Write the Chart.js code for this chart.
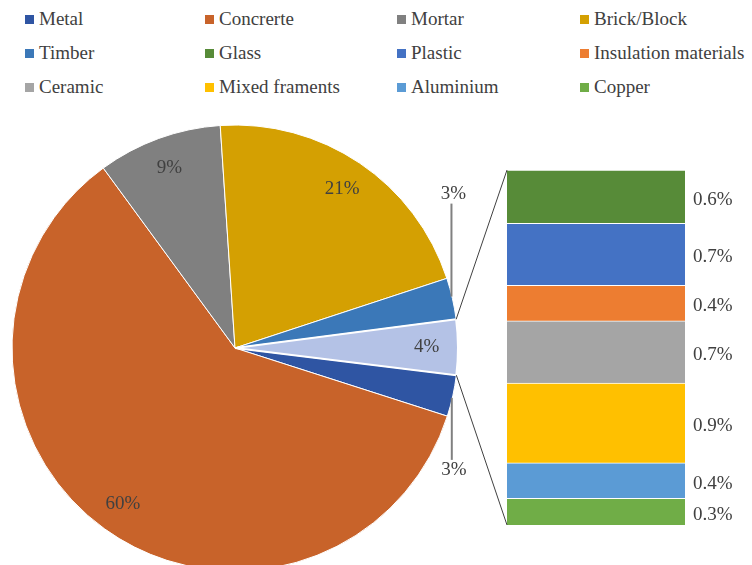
<!DOCTYPE html>
<html lang="en">
<head>
  <meta charset="UTF-8" />
  <title>Waste composition</title>
  <script src="https://cdn.jsdelivr.net/npm/chart.js"></script>
  <style>
    html, body { margin: 0; padding: 0; background: #fff; }
    body { width: 752px; height: 565px; overflow: hidden; position: relative; font-family: "Liberation Serif", serif; }
    #legend { position: absolute; left: 25px; top: 2px; display: grid; grid-template-columns: 180px 192px 183px auto; grid-auto-rows: 34px; color: #404040; font-size: 19px; }
    #legend div { display: flex; align-items: center; white-space: nowrap; }
    #legend span { display: inline-block; width: 9px; height: 9px; margin-right: 5px; }
    #pie { position: absolute; left: 11px; top: 124px; }
    #bar { position: absolute; left: 440px; top: 150px; }
  </style>
</head>
<body>
  <div id="legend"></div>
  <canvas id="pie" width="490" height="448"></canvas>
  <canvas id="bar" width="312" height="395"></canvas>

  <script>
    // pie slices, in the order Excel draws them from the first-slice angle
    const pieLabels = ['Metal', 'Concrerte', 'Mortar', 'Brick/Block', 'Timber', 'Other'];
    const pieValues = [3, 60, 9, 21, 3, 4];
    const pieColors = ['#2f55a3', '#c8632a', '#808080', '#d4a002', '#3b78b8', '#b4c2e6'];

    // breakdown of the "Other" slice, top to bottom
    const barLabels = ['Glass', 'Plastic', 'Insulation materials', 'Ceramic', 'Mixed framents', 'Aluminium', 'Copper'];
    const barValues = [0.6, 0.7, 0.4, 0.7, 0.9, 0.4, 0.3];
    const barColors = ['#578b38', '#4472c4', '#ed7d31', '#a5a5a5', '#ffc000', '#5b9bd5', '#70ad47'];

    const legendNames = pieLabels.slice(0, 5).concat(barLabels);
    const legendColors = pieColors.slice(0, 5).concat(barColors);

    const legendEl = document.getElementById('legend');
    legendNames.forEach((name, i) => {
      const item = document.createElement('div');
      item.innerHTML = '<span style="background:' + legendColors[i] + '"></span>' + name;
      legendEl.appendChild(item);
    });

    const textColor = '#404040';
    const labelFont = '19px "Liberation Serif", serif';

    // labels with leader lines for the two thin slices beside "Other"
    const outside = { 0: { dir: 1, len: 64 }, 4: { dir: -1, len: 95 } };

    const pieLabelsPlugin = {
      id: 'pieLabels',
      afterDatasetsDraw(chart) {
        const ctx = chart.ctx;
        const arcs = chart.getDatasetMeta(0).data;
        ctx.save();
        ctx.font = labelFont;
        ctx.fillStyle = textColor;
        ctx.textAlign = 'center';
        ctx.textBaseline = 'middle';
        arcs.forEach((arc, i) => {
          const mid = (arc.startAngle + arc.endAngle) / 2;
          const text = pieValues[i] + '%';
          if (outside[i]) {
            const o = outside[i];
            const ex = arc.x + arc.outerRadius * Math.cos(mid) - 1;
            const ey = arc.y + arc.outerRadius * Math.sin(mid);
            ctx.strokeStyle = '#808080';
            ctx.lineWidth = 2;
            ctx.beginPath();
            ctx.moveTo(ex, ey + o.dir * 2);
            ctx.lineTo(ex, ey + o.dir * o.len);
            ctx.stroke();
            ctx.fillText(text, ex + 2, ey + o.dir * (o.len + 10));
          } else {
            const r = arc.outerRadius * 0.86;
            ctx.fillText(text, arc.x + r * Math.cos(mid), arc.y + r * Math.sin(mid));
          }
        });
        ctx.restore();
      }
    };

    const pieChart = new Chart(document.getElementById('pie'), {
      type: 'pie',
      data: {
        labels: pieLabels,
        datasets: [{
          data: pieValues,
          backgroundColor: pieColors,
          borderColor: '#ffffff',
          borderWidth: [1, 1, 1, 1, 1, 2]
        }]
      },
      options: {
        responsive: false,
        animation: false,
        rotation: 97,
        layout: { padding: { left: 0, top: 0, bottom: 0, right: 42 } },
        plugins: { legend: { display: false }, tooltip: { enabled: false } }
      },
      plugins: [pieLabelsPlugin]
    });

    // connector lines from the "Other" slice to the bar, and the bar value labels
    const barExtras = {
      id: 'barExtras',
      afterDatasetsDraw(chart) {
        const ctx = chart.ctx;
        const area = chart.chartArea;
        const pieCanvas = pieChart.canvas;
        const dx = pieCanvas.offsetLeft - chart.canvas.offsetLeft;
        const dy = pieCanvas.offsetTop - chart.canvas.offsetTop;
        const other = pieChart.getDatasetMeta(0).data[5];
        const p1 = [other.x + other.outerRadius * Math.cos(other.startAngle) + dx, other.y + other.outerRadius * Math.sin(other.startAngle) + dy];
        const p2 = [other.x + other.outerRadius * Math.cos(other.endAngle) + dx, other.y + other.outerRadius * Math.sin(other.endAngle) + dy];
        ctx.save();
        ctx.strokeStyle = '#404040';
        ctx.lineWidth = 1;
        ctx.beginPath();
        ctx.moveTo(p1[0], p1[1]);
        ctx.lineTo(area.left, area.top);
        ctx.moveTo(p2[0], p2[1]);
        ctx.lineTo(area.left, area.bottom);
        ctx.stroke();

        ctx.font = labelFont;
        ctx.fillStyle = textColor;
        ctx.textAlign = 'left';
        ctx.textBaseline = 'middle';
        chart.data.datasets.forEach((ds, d) => {
          const bar = chart.getDatasetMeta(d).data[0];
          const yMid = (bar.y + bar.base) / 2;
          ctx.fillText(ds.data[0].toFixed(1) + '%', area.right + 8, yMid + 3);
        });
        ctx.restore();
      }
    };

    // stacked bar builds from the bottom, so feed the segments reversed
    const barDatasets = barLabels.map((name, i) => ({
      label: name,
      data: [barValues[i]],
      backgroundColor: barColors[i],
      borderColor: '#ffffff',
      borderWidth: { top: 1, bottom: 0, left: 0, right: 0 },
      borderSkipped: false,
      barPercentage: 1,
      categoryPercentage: 1
    })).reverse();

    new Chart(document.getElementById('bar'), {
      type: 'bar',
      data: { labels: ['Other'], datasets: barDatasets },
      options: {
        responsive: false,
        animation: false,
        layout: { padding: { left: 67, right: 67, top: 20, bottom: 20 } },
        scales: {
          x: { stacked: true, display: false },
          y: { stacked: true, display: false, min: 0, max: 4 }
        },
        plugins: { legend: { display: false }, tooltip: { enabled: false } }
      },
      plugins: [barExtras]
    });
  </script>
</body>
</html>
